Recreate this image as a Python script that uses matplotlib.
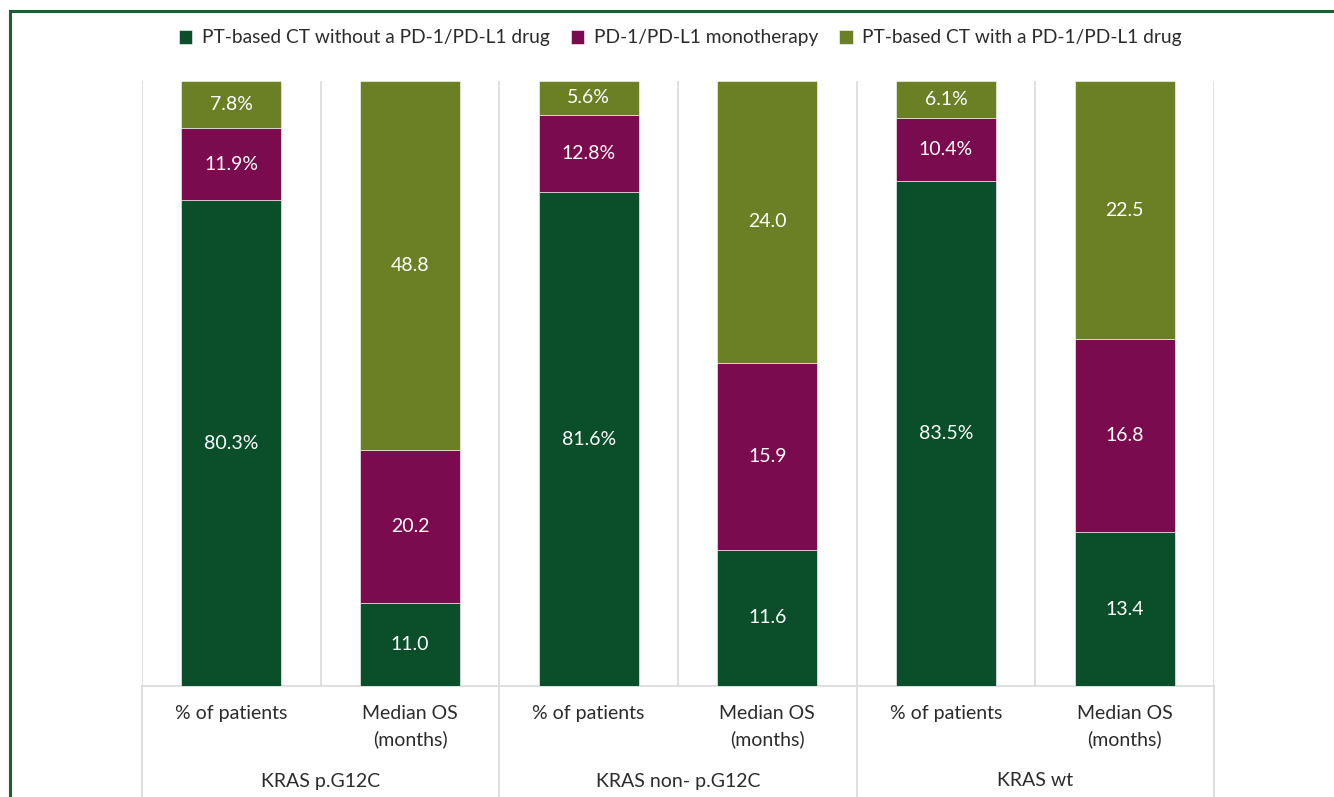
import matplotlib.pyplot as plt
import matplotlib.transforms as mtransforms
from matplotlib.patches import Rectangle
import numpy as np

plt.rcParams['font.family'] = ['Lato', 'DejaVu Sans']

# data
groups = ["KRAS p.G12C", "KRAS non- p.G12C", "KRAS wt"]
measures = ["% of patients", "Median OS\n(months)"]
series = ["PT-based CT without a PD-1/PD-L1 drug",
          "PD-1/PD-L1 monotherapy",
          "PT-based CT with a PD-1/PD-L1 drug"]
colors = ["#0A4F2A", "#7A0B4E", "#6B7F24"]

# one row per bar: % patients / median OS for each KRAS group
pt_ct = [80.3, 11.0, 81.6, 11.6, 83.5, 13.4]
pd1_mono = [11.9, 20.2, 12.8, 15.9, 10.4, 16.8]
pt_ct_pd1 = [7.8, 48.8, 5.6, 24.0, 6.1, 22.5]
is_pct = [True, False, True, False, True, False]

values = np.array([pt_ct, pd1_mono, pt_ct_pd1])
totals = values.sum(axis=0)
shares = values / totals * 100

fig = plt.figure(figsize=(13.34, 7.97), dpi=100)
ax = fig.add_axes([142/1334, 1-686/797, (1214-142)/1334, (686-81)/797])

x = np.arange(len(pt_ct))
bottom = np.zeros(len(x))
for i in range(3):
    ax.bar(x, shares[i], 0.56, bottom=bottom, color=colors[i], label=series[i],
           edgecolor="white", linewidth=0.4, zorder=3)
    for j in range(len(x)):
        txt = f"{values[i][j]:.1f}%" if is_pct[j] else f"{values[i][j]:.1f}"
        ax.text(x[j], bottom[j] + shares[i][j] / 2, txt, ha="center", va="center",
                color="white", fontsize=14, zorder=4)
    bottom += shares[i]

ax.set_xlim(-0.5, len(x) - 0.5)
ax.set_ylim(0, 100)
ax.set_xticks([])
ax.set_yticks([])
for s in ["top", "left", "right"]:
    ax.spines[s].set_visible(False)
ax.spines["bottom"].set_color("#D9D9D9")
ax.spines["bottom"].set_linewidth(1.2)

# vertical gridlines between bars
for b in np.arange(-0.5, len(x), 1.0):
    ax.axvline(b, color="#D9D9D9", linewidth=1.2, zorder=1)

# multi-level category axis
trans = mtransforms.blended_transform_factory(ax.transData, ax.transAxes)
low = -(797 - 686) / 605
for b in [-0.5, 1.5, 3.5, 5.5]:
    ax.plot([b, b], [0, low], color="#D9D9D9", linewidth=1.2, transform=trans, clip_on=False)
for j in range(len(x)):
    ax.text(x[j], -(705 - 686) / 605, measures[j % 2], transform=trans, ha="center", va="top",
            fontsize=14, color="#2B2B2B", linespacing=1.55)
for g in range(len(groups)):
    ax.text(2 * g + 0.5, -(781 - 686) / 605, groups[g], transform=trans, ha="center", va="center",
            fontsize=14, color="#2B2B2B")

fig.legend(loc="center", bbox_to_anchor=(0.51, 1 - 38/797), ncol=3, frameon=False,
           fontsize=13.8, handlelength=0.7, handleheight=0.7, handletextpad=0.5,
           columnspacing=1.1, labelcolor="#2B2B2B")

# outer frame
fig.patches.append(Rectangle((10/1334, -0.1), 1.2, 1 - 11/797 + 0.1, transform=fig.transFigure,
                             fill=False, edgecolor="#1F5C34", linewidth=2.2))

fig.savefig("out.png", dpi=100)
